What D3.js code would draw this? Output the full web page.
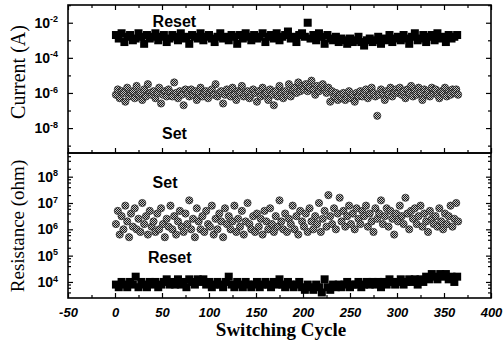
<!DOCTYPE html>
<html>
<head>
<meta charset="utf-8">
<script src="https://cdn.jsdelivr.net/npm/d3@7"></script>
<style>
  body { margin: 0; background: #fff; }
  svg { display: block; }
  .tick text { font-family: "Liberation Sans", Arial, sans-serif; font-weight: bold; fill: #000; }
  .ann { font-family: "Liberation Sans", Arial, sans-serif; font-weight: bold; font-size: 16px; }
  .title { font-family: "Liberation Serif", "Times New Roman", serif; }
</style>
</head>
<body>
<div id="chart"></div>
<script>
// cycle sampling of the two kinds of markers
const resetCycles = d3.range(1, 366, 3);
const setCycles = d3.range(1, 366, 2);

// log10 of current (A), reset state
const resetCurrentExp = [
  -2.7,-2.9,-2.6,-3.1,-2.8,-2.7,-3.0,-2.9,-2.6,-2.8,
  -3.2,-2.7,-2.9,-2.8,-2.6,-3.0,-2.8,-2.7,-3.1,-2.9,
  -2.7,-2.8,-3.0,-2.6,-2.9,-2.8,-3.2,-2.7,-2.8,-2.9,
  -2.6,-3.0,-2.8,-2.7,-2.9,-3.1,-2.8,-2.6,-2.9,-2.8,
  -3.0,-2.7,-2.8,-3.2,-2.7,-2.9,-2.6,-2.8,-3.0,-2.7,
  -2.9,-2.8,-2.6,-3.1,-2.8,-2.7,-2.9,-2.6,-3.0,-2.8,
  -2.7,-2.5,-2.9,-2.8,-3.1,-2.7,-2.6,-2.8,-2.0,-2.9,
  -2.7,-3.0,-2.6,-2.8,-3.2,-2.7,-2.9,-3.0,-2.8,-3.1,
  -2.9,-3.0,-3.2,-2.9,-3.1,-3.0,-2.8,-3.1,-3.3,-3.0,
  -2.9,-3.1,-3.0,-2.8,-3.2,-2.9,-3.0,-2.7,-3.1,-2.9,
  -2.8,-3.0,-2.7,-2.9,-3.2,-2.8,-2.6,-3.0,-2.9,-2.7,
  -3.1,-2.8,-2.7,-3.0,-2.6,-2.9,-2.8,-3.1,-2.7,-2.9,
  -2.8,-2.7
];

// log10 of current (A), set state
const setCurrentExp = [
  -6.1,-5.8,-6.3,-5.9,-6.0,-6.5,-5.7,-6.2,-6.0,-5.9,
  -6.3,-5.6,-6.1,-6.0,-6.4,-5.8,-6.2,-5.5,-6.0,-6.1,
  -5.9,-6.3,-6.0,-5.7,-6.6,-6.1,-5.9,-6.2,-5.8,-6.0,
  -6.2,-5.4,-6.0,-6.3,-5.9,-6.1,-6.7,-5.8,-6.0,-6.2,
  -5.8,-6.1,-5.9,-6.4,-6.0,-5.7,-6.2,-6.0,-5.9,-6.3,
  -6.0,-5.8,-6.1,-5.5,-6.2,-6.0,-5.9,-6.6,-6.1,-5.8,
  -6.0,-6.2,-5.7,-6.1,-6.4,-5.9,-6.0,-5.6,-6.2,-6.0,
  -5.9,-6.3,-6.1,-5.8,-6.0,-6.5,-5.9,-6.2,-5.7,-6.1,
  -6.0,-6.4,-5.8,-6.1,-6.7,-5.9,-6.2,-5.6,-6.0,-6.3,
  -5.9,-6.1,-5.5,-6.2,-5.8,-5.7,-6.0,-5.4,-5.9,-5.6,
  -5.8,-5.5,-5.9,-5.7,-5.3,-5.8,-6.1,-5.6,-5.9,-5.7,
  -5.5,-5.8,-6.0,-5.7,-6.5,-5.9,-6.2,-6.0,-6.4,-6.1,
  -6.3,-6.0,-6.4,-6.2,-5.9,-6.3,-6.1,-6.5,-6.0,-6.2,
  -5.9,-6.2,-6.0,-5.8,-6.3,-6.1,-5.7,-6.0,-6.2,-7.3,
  -6.1,-5.8,-6.0,-6.4,-5.9,-6.1,-5.7,-6.2,-6.0,-5.8,
  -6.0,-5.7,-6.1,-5.9,-6.3,-5.8,-6.0,-5.6,-6.2,-5.9,
  -6.1,-5.7,-6.0,-6.4,-5.8,-6.1,-5.9,-6.2,-5.7,-6.0,
  -5.8,-6.1,-6.3,-5.9,-6.0,-5.7,-6.2,-5.9,-6.1,-5.8,
  -6.0,-5.8,-6.1
];

// log10 of resistance (ohm), set state
const setResistanceExp = [
  6.2,6.7,5.8,6.5,6.0,6.9,6.3,5.7,6.6,6.1,
  6.8,6.0,6.4,5.9,7.0,6.2,6.5,5.8,6.7,6.1,
  6.3,5.9,6.6,6.0,6.8,6.2,5.7,6.4,6.1,6.9,
  6.0,6.5,5.8,6.3,6.7,6.1,5.9,6.6,6.2,7.1,
  6.0,6.4,5.7,6.8,6.3,6.0,6.5,5.9,6.7,6.2,
  6.1,6.9,5.8,6.4,6.0,6.6,6.3,5.7,6.8,6.2,
  6.5,6.0,6.3,6.9,5.9,6.4,6.1,6.7,5.8,6.3,
  7.0,6.2,6.0,6.5,5.9,6.6,6.1,6.4,5.8,6.7,
  6.3,6.0,6.8,6.2,5.9,6.5,6.1,7.1,6.3,6.0,
  6.6,5.9,6.4,6.2,6.9,6.0,6.5,5.8,6.7,6.3,
  6.1,6.6,5.9,6.8,6.3,6.0,6.5,6.2,7.0,5.9,
  6.4,6.7,6.1,7.3,6.5,6.2,6.8,6.0,6.6,7.2,
  6.3,6.7,6.1,6.5,6.9,6.2,6.6,6.0,6.8,6.4,
  6.2,6.7,6.5,6.9,6.1,6.6,6.3,5.9,6.8,6.4,
  6.6,7.1,6.2,6.5,6.8,6.1,6.7,6.4,5.8,6.6,
  6.3,6.9,6.5,6.2,7.2,6.6,6.0,6.7,6.4,6.8,
  6.2,6.5,6.9,6.1,6.6,6.3,5.9,6.7,6.4,6.2,
  6.5,6.1,6.8,6.3,6.0,6.6,6.2,6.5,6.9,6.1,
  6.4,7.0,6.3
];

// log10 of resistance (ohm), reset state
const resetResistanceExp = [
  3.9,3.8,4.0,3.9,3.8,4.0,3.9,4.2,3.8,4.0,
  3.9,3.8,4.0,3.9,4.0,3.8,3.9,4.0,4.1,3.9,
  4.0,3.9,4.1,3.9,4.0,3.8,4.1,4.0,3.9,4.1,
  4.0,4.1,3.9,4.0,3.8,3.9,4.0,3.9,3.8,4.0,
  4.2,3.9,3.8,4.0,3.9,3.8,4.0,3.9,3.8,3.9,
  4.0,3.8,3.9,4.0,3.9,3.8,4.0,3.9,4.1,3.9,
  3.8,4.0,3.9,3.8,3.9,4.0,3.8,3.7,3.9,3.8,
  3.7,3.9,3.8,3.6,4.1,3.8,3.7,3.9,3.8,3.9,
  3.8,3.9,4.0,3.8,3.9,3.9,4.0,3.8,3.9,4.0,
  3.9,4.0,3.9,4.0,3.8,4.0,3.9,4.1,4.0,3.9,
  4.0,4.1,3.9,4.0,4.1,4.0,4.1,3.9,4.1,4.0,
  4.2,4.1,4.3,4.2,4.1,4.3,4.2,4.3,4.1,4.2,
  4.0,4.2
];

const xTicks = [-50, 0, 50, 100, 150, 200, 250, 300, 350, 400];
const currentTickExp = [-2, -4, -6, -8];
const resistanceTickExp = [8, 7, 6, 5, 4];

const W = 503, H = 343;
const svg = d3.select('#chart').append('svg').attr('width', W).attr('height', H);

// halftone fill of the grey markers
const defs = svg.append('defs');
const pat = defs.append('pattern').attr('id', 'dither')
  .attr('width', 2).attr('height', 2).attr('patternUnits', 'userSpaceOnUse');
pat.append('rect').attr('width', 2).attr('height', 2).attr('fill', '#c4c4c4');
pat.append('rect').attr('width', 1).attr('height', 1).attr('fill', '#1a1a1a');
pat.append('rect').attr('x', 1).attr('y', 1).attr('width', 1).attr('height', 1).attr('fill', '#1a1a1a');

const x = d3.scaleLinear().domain([-50, 400]).range([68, 491]);
const yTop = d3.scaleLog().domain([Math.pow(10, -9.42), Math.pow(10, -0.99)]).range([153, 5]);
const yBot = d3.scaleLog().domain([Math.pow(10, 3.39), Math.pow(10, 8.9)]).range([298, 153]);

const pts = (cycles, exps) => cycles.map((c, i) => ({ c, v: Math.pow(10, exps[i]) }));

function squares(data, y) {
  svg.append('g').selectAll('rect').data(data).join('rect')
    .attr('x', d => x(d.c) - 4).attr('y', d => y(d.v) - 4)
    .attr('width', 8).attr('height', 8).attr('fill', '#000');
}
function circles(data, y) {
  svg.append('g').selectAll('circle').data(data).join('circle')
    .attr('cx', d => x(d.c)).attr('cy', d => y(d.v)).attr('r', 3.6)
    .attr('fill', 'url(#dither)').attr('stroke', '#333').attr('stroke-width', 0.8);
}

circles(pts(setCycles, setCurrentExp), yTop);
squares(pts(resetCycles, resetCurrentExp), yTop);
circles(pts(setCycles, setResistanceExp), yBot);
squares(pts(resetCycles, resetResistanceExp), yBot);

// axes
function supLabels(g, exps) {
  g.selectAll('.tick text').each(function (d, i) {
    const t = d3.select(this).text(null).attr('font-size', 14);
    t.append('tspan').text('10');
    t.append('tspan').attr('dy', '-0.6em').attr('font-size', 9).text(exps[i] < 0 ? '-' + (-exps[i]) : exps[i]);
  });
}

function yAxes(y, labelExps, minorVals) {
  const major = labelExps.map(e => Math.pow(10, e));
  const gl = svg.append('g').attr('transform', 'translate(68,0)')
    .call(d3.axisLeft(y).tickValues(major).tickSizeInner(-5).tickSizeOuter(0).tickPadding(10));
  supLabels(gl, labelExps);
  svg.append('g').attr('transform', 'translate(68,0)')
    .call(d3.axisLeft(y).tickValues(minorVals).tickSizeInner(-3).tickSizeOuter(0).tickFormat(''));
  svg.append('g').attr('transform', 'translate(491,0)')
    .call(d3.axisRight(y).tickValues(major).tickSizeInner(-5).tickSizeOuter(0).tickFormat(''));
  svg.append('g').attr('transform', 'translate(491,0)')
    .call(d3.axisRight(y).tickValues(minorVals).tickSizeInner(-3).tickSizeOuter(0).tickFormat(''));
}

yAxes(yTop, currentTickExp, [-9, -7, -5, -3, -1].map(e => Math.pow(10, e)));
const resMinor = [];
[3, 4, 5, 6, 7, 8].forEach(e => [2, 4, 6, 8].forEach(m => {
  const v = m * Math.pow(10, e);
  if (v > yBot.domain()[0] && v < yBot.domain()[1]) resMinor.push(v);
}));
yAxes(yBot, resistanceTickExp, resMinor);

const xMinor = d3.range(-25, 400, 50);
function xAxis(yPos, dir, labels) {
  const ax = dir === 'bottom' ? d3.axisBottom : d3.axisTop;
  const g = svg.append('g').attr('transform', `translate(0,${yPos})`)
    .call(ax(x).tickValues(xTicks).tickSizeInner(-5).tickSizeOuter(0).tickPadding(10)
      .tickFormat(labels ? d => String(d) : ''));
  g.selectAll('.tick text').attr('font-size', 13).attr('font-style', 'italic');
  svg.append('g').attr('transform', `translate(0,${yPos})`)
    .call(ax(x).tickValues(xMinor).tickSizeInner(-3).tickSizeOuter(0).tickFormat(''));
}
xAxis(298, 'bottom', true);
xAxis(153, 'bottom', false);
xAxis(5, 'top', false);

svg.selectAll('.domain').remove();
svg.selectAll('.tick line').attr('stroke', '#000').attr('stroke-width', 1.2);

// frames
svg.append('rect').attr('x', 68).attr('y', 5).attr('width', 423).attr('height', 148)
  .attr('fill', 'none').attr('stroke', '#000').attr('stroke-width', 1.6);
svg.append('rect').attr('x', 68).attr('y', 153).attr('width', 423).attr('height', 145)
  .attr('fill', 'none').attr('stroke', '#000').attr('stroke-width', 1.6);

// annotations
const ann = (t, cx, y) => svg.append('text').attr('class', 'ann').attr('x', cx).attr('y', y).text(t);
ann('Reset', x(40), yTop(Math.pow(10, -2.24)));
ann('Set', x(50), yTop(Math.pow(10, -8.6)));
ann('Set', x(40), yBot(Math.pow(10, 7.57)));
ann('Reset', x(35), yBot(Math.pow(10, 4.72)));

// titles
svg.append('text').attr('class', 'title').attr('font-size', 20)
  .attr('transform', 'translate(25,72) rotate(-90)').attr('text-anchor', 'middle').text('Current (A)');
svg.append('text').attr('class', 'title').attr('font-size', 19)
  .attr('transform', 'translate(24,226) rotate(-90)').attr('text-anchor', 'middle').text('Resistance (ohm)');
svg.append('text').attr('class', 'title').attr('font-size', 19).attr('font-weight', 'bold')
  .attr('x', 281).attr('y', 336).attr('text-anchor', 'middle').text('Switching Cycle');
</script>
</body>
</html>
